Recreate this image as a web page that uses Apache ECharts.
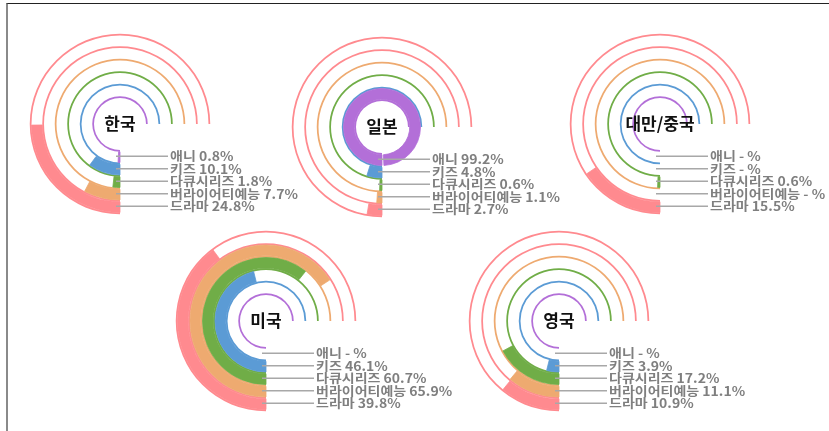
<!DOCTYPE html>
<html><head><meta charset="utf-8">
<script src="https://cdn.jsdelivr.net/npm/echarts@6/dist/echarts.min.js"></script>
<style>
html,body{margin:0;padding:0;background:#fff;}
#c{width:829px;height:431px;}
#frame{position:absolute;left:6px;top:3px;right:0;bottom:0;border-top:1px solid #222;border-left:2px solid #8a8a8a;pointer-events:none;}
</style></head>
<body><div id="c"></div><div id="frame"></div>
<script>
const categories = ['애니', '키즈', '다큐시리즈', '버라이어티예능', '드라마'];
const countries = ['한국', '일본', '대만/중국', '미국', '영국'];
const korea = [0.8, 10.1, 1.8, 7.7, 24.8];
const japan = [99.2, 4.8, 0.6, 1.1, 2.7];
const taiwanChina = [null, null, 0.6, null, 15.5];
const usa = [null, 46.1, 60.7, 65.9, 39.8];
const uk = [null, 3.9, 17.2, 11.1, 10.9];
const trackMax = 75; // track covers 270° of a 0-100 (360°) scale

const colors = ['#b36fd8', '#5b9bd5', '#70ad47', '#eeaa70', '#ff8a8f'];
const groups = [
  { name: countries[0], values: korea, center: [120, 124] },
  { name: countries[1], values: japan, center: [382, 127] },
  { name: countries[2], values: taiwanChina, center: [660, 124] },
  { name: countries[3], values: usa, center: [266, 321] },
  { name: countries[4], values: uk, center: [559, 321] }
];
const FONT = '"Noto Sans CJK KR", "Noto Sans", sans-serif';
const radCats = categories.concat(['']);

const polar = [], angleAxis = [], radiusAxis = [], series = [];
groups.forEach((g, i) => {
  polar.push({ center: g.center, radius: [26, 101] });
  angleAxis.push({ polarIndex: i, type: 'value', min: 0, max: 100, startAngle: 270, clockwise: true, show: false });
  radiusAxis.push({ polarIndex: i, type: 'category', data: radCats, show: false });
  series.push({
    type: 'bar', coordinateSystem: 'polar', polarIndex: i, silent: true,
    barWidth: '14%', barGap: '0%', barCategoryGap: '0%',
    data: radCats.map((c, k) => ({ value: trackMax, itemStyle: { color: colors[Math.min(k, 4)] } }))
  });
  series.push({
    type: 'bar', coordinateSystem: 'polar', polarIndex: i, silent: true,
    barWidth: '86%', barGap: '0%', barCategoryGap: '0%',
    data: g.values.concat([null]).map((v, k) => ({
      value: v == null ? '-' : v,
      itemStyle: { color: colors[Math.min(k, 4)], borderColor: colors[Math.min(k, 4)], borderWidth: 0.8 }
    }))
  });
  series.push({
    type: 'custom', coordinateSystem: 'polar', polarIndex: i, silent: true, z: 10,
    data: categories.map((c, k) => [k, 0]),
    renderItem: function (params, api) {
      const k = params.dataIndex;
      const p = api.coord([api.value(0), api.value(1)]);
      const v = g.values[k];
      const txt = categories[k] + ' ' + (v == null ? '- %' : v.toFixed(1) + '%');
      const children = [
        { type: 'line', shape: { x1: p[0] - 4, y1: p[1], x2: p[0] + 48, y2: p[1] },
          style: { stroke: '#a8a8a8', lineWidth: 1.5 } },
        { type: 'text', x: p[0] + 50, y: p[1], scaleX: 1.12,
          style: { text: txt, fill: '#7f7f7f', font: 'bold 12.5px ' + FONT, textVerticalAlign: 'middle', textAlign: 'left' } }
      ];
      if (k === 0) {
        children.push({ type: 'text', x: params.coordSys.cx, y: params.coordSys.cy,
          style: { text: g.name, fill: '#111', font: 'bold 17px ' + FONT, textAlign: 'center', textVerticalAlign: 'middle' } });
      }
      return { type: 'group', children: children };
    }
  });
});

const chart = echarts.init(document.getElementById('c'), null, { renderer: 'canvas' });
chart.setOption({
  animation: false,
  backgroundColor: '#fff',
  polar: polar,
  angleAxis: angleAxis,
  radiusAxis: radiusAxis,
  series: series
});
</script>
</body></html>
